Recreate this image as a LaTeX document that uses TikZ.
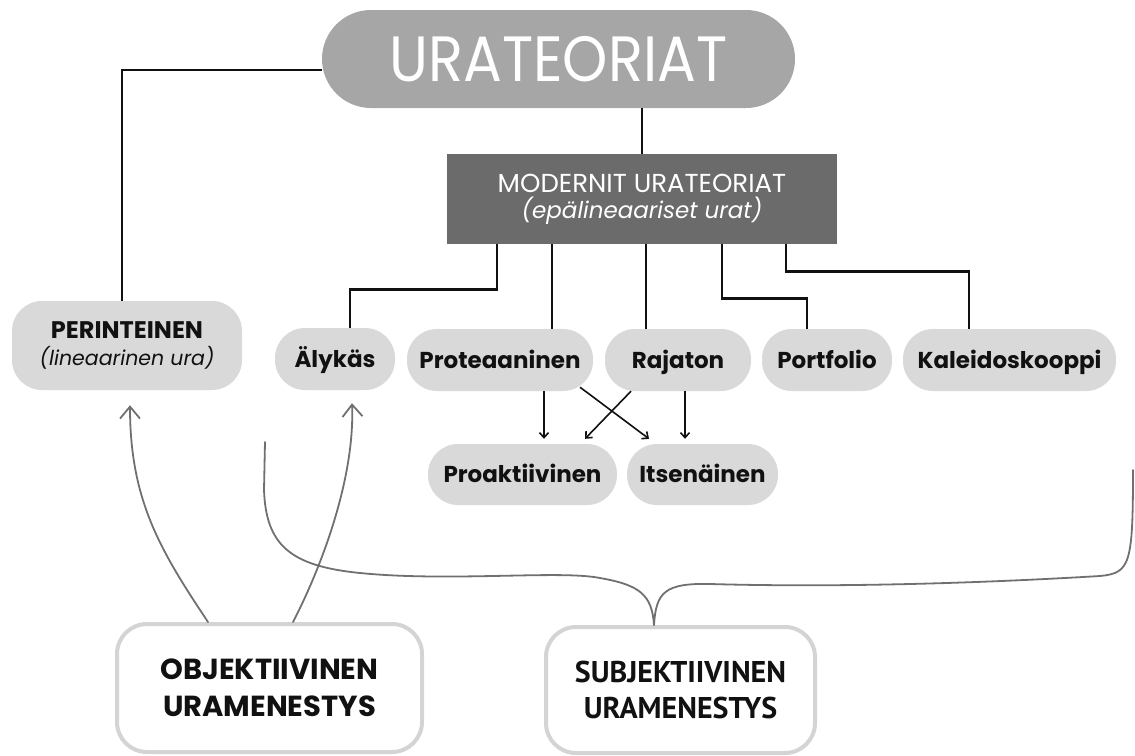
\documentclass[tikz,border=0pt]{standalone}
\usepackage{fontspec}
\setmainfont{Poppins}
\newfontfamily\ptsans{PT Sans}
\usetikzlibrary{arrows.meta,calc}
\definecolor{pillgray}{HTML}{D9D9D9}
\definecolor{titlegray}{HTML}{A6A6A6}
\definecolor{modgray}{HTML}{6B6B6B}
\definecolor{framegray}{HTML}{D4D4D4}
\definecolor{curvegray}{HTML}{707070}
\definecolor{ink}{HTML}{111111}
\tikzset{
  pill/.style={fill=pillgray, rounded corners=30pt, minimum height=62pt, inner sep=0pt, text=ink,
    font=\fontsize{23}{26}\selectfont\bfseries, text height=16pt, text depth=0pt},
  framebox/.style={draw=framegray, line width=4pt, fill=white, rounded corners=30pt, inner sep=0pt, text=ink, align=center},
  link/.style={draw=ink, line width=2.6pt},
  arr/.style={draw=ink, line width=1.6pt, -{Straight Barb[length=5pt,width=9pt]}},
  sketch/.style={draw=curvegray, line width=1.8pt, line cap=round, line join=round},
  sketcharr/.style={sketch, -{Straight Barb[length=12pt,width=20pt]}}
}
\begin{document}
\begin{tikzpicture}[x=1pt,y=-1pt]
\useasboundingbox (0,0) rectangle (1135,755);
% top title
\node[fill=titlegray, rounded corners=49pt, minimum width=473pt, minimum height=98pt, inner sep=0pt,
  text=white, font=\fontsize{64}{64}\selectfont] (ura) at (558.5,59) {\scalebox{0.9}[1]{URATEORIAT}};
% modern box
\node[fill=modgray, minimum width=390pt, minimum height=90pt, inner sep=0pt, text=white, align=center,
  font=\fontsize{26}{28}\selectfont] (mod) at (642,199)
  {MODERNIT URATEORIAT\\[-2pt]
   \fontsize{23}{28}\selectfont\itshape (epälineaariset urat)};
% traditional
\node[fill=pillgray, rounded corners=30pt, inner sep=0pt, text=ink, minimum width=230pt, minimum height=89pt, align=center,
  font=\fontsize{24}{27}\selectfont\bfseries] (per) at (127,345.5)
  {PERINTEINEN\\
   \fontsize{20.5}{27}\selectfont\mdseries\itshape (lineaarinen ura)};
% modern children
\node[pill, minimum width=120pt] (aly) at (335,359) {Älykäs};
\node[pill, minimum width=186pt] (pro) at (500,360) {Proteaaninen};
\node[pill, minimum width=146pt] (raj) at (678,360) {Rajaton};
\node[pill, minimum width=130pt] (por) at (827,360) {Portfolio};
\node[pill, minimum width=213pt] (kal) at (1009.5,360) {Kaleidoskooppi};
\node[pill, minimum width=189pt, minimum height=61pt] (pra) at (522.5,474.5) {Proaktiivinen};
\node[pill, minimum width=151pt, minimum height=61pt] (its) at (702.5,474.5) {Itsenäinen};
% bottom boxes
\node[framebox, minimum width=305pt, minimum height=128pt, font=\fontsize{29}{37}\selectfont\bfseries] (obj) at (269.5,688)
  {OBJEKTIIVINEN\\URAMENESTYS};
\node[framebox, minimum width=269pt, minimum height=126pt, font=\ptsans\fontsize{30}{36}\selectfont\bfseries] (sub) at (680.5,690)
  {SUBJEKTIIVINEN\\URAMENESTYS};
% connectors
\draw[link] ([yshift=-11pt]ura.west) -| ([xshift=-5pt]per.north);
\draw[link] (mod.north) -- (mod.north |- ura.south);
\draw[link] ([xshift=-145pt]mod.south) -- ++(0,45) -| ([xshift=15pt]aly.north);
\draw[link] ([xshift=52pt]pro.north) -- ([xshift=52pt]pro.north |- mod.south);
\draw[link] ([xshift=-32pt]raj.north) -- ([xshift=-32pt]raj.north |- mod.south);
\draw[link] ([xshift=80pt]mod.south) -- ++(0,54) -| ([xshift=-20pt]por.north);
\draw[link] ([xshift=144pt]mod.south) -- ++(0,27) -| ([xshift=-40.5pt]kal.north);
% arrows
\draw[arr] ([xshift=44pt]pro.south) -- ([xshift=44pt,yshift=5pt]pro.south |- pra.north);
\draw[arr] ([xshift=80pt,yshift=4pt]pro.south) -- ([xshift=-53.5pt,yshift=5pt]its.north);
\draw[arr] ([xshift=-47pt]raj.south) -- ([xshift=62.5pt,yshift=5pt]pra.north);
\draw[arr] ([xshift=7pt]raj.south) -- ([xshift=7pt,yshift=5pt]raj.south |- its.north);
% sketch arrows
\draw[sketcharr] ([xshift=-61.5pt]obj.north) .. controls (160,550) and (130,500) .. ([xshift=3pt,yshift=-15pt]per.south);
\draw[sketcharr] ([xshift=23.5pt]obj.north) .. controls (320,570) and (355,480) .. ([xshift=17pt,yshift=-13pt]aly.south);
% brace
\coordinate (bl) at (265,442);
\coordinate (br) at (1133,470);
\coordinate (bt) at ([xshift=-26.5pt]sub.north);
\draw[sketch] (bl) -- (264,490) .. controls (266,545) and (290,566) .. (360,573)
  .. controls (450,582) and (560,570) .. (600,578) .. controls (640,585) and (652,595) .. (bt);
\draw[sketch] (bt) .. controls (656,592) and (665,583) .. (710,584)
  .. controls (850,588) and (1000,582) .. (1100,576) .. controls (1130,573) and (1133,565) .. (br);
\end{tikzpicture}
\end{document}
